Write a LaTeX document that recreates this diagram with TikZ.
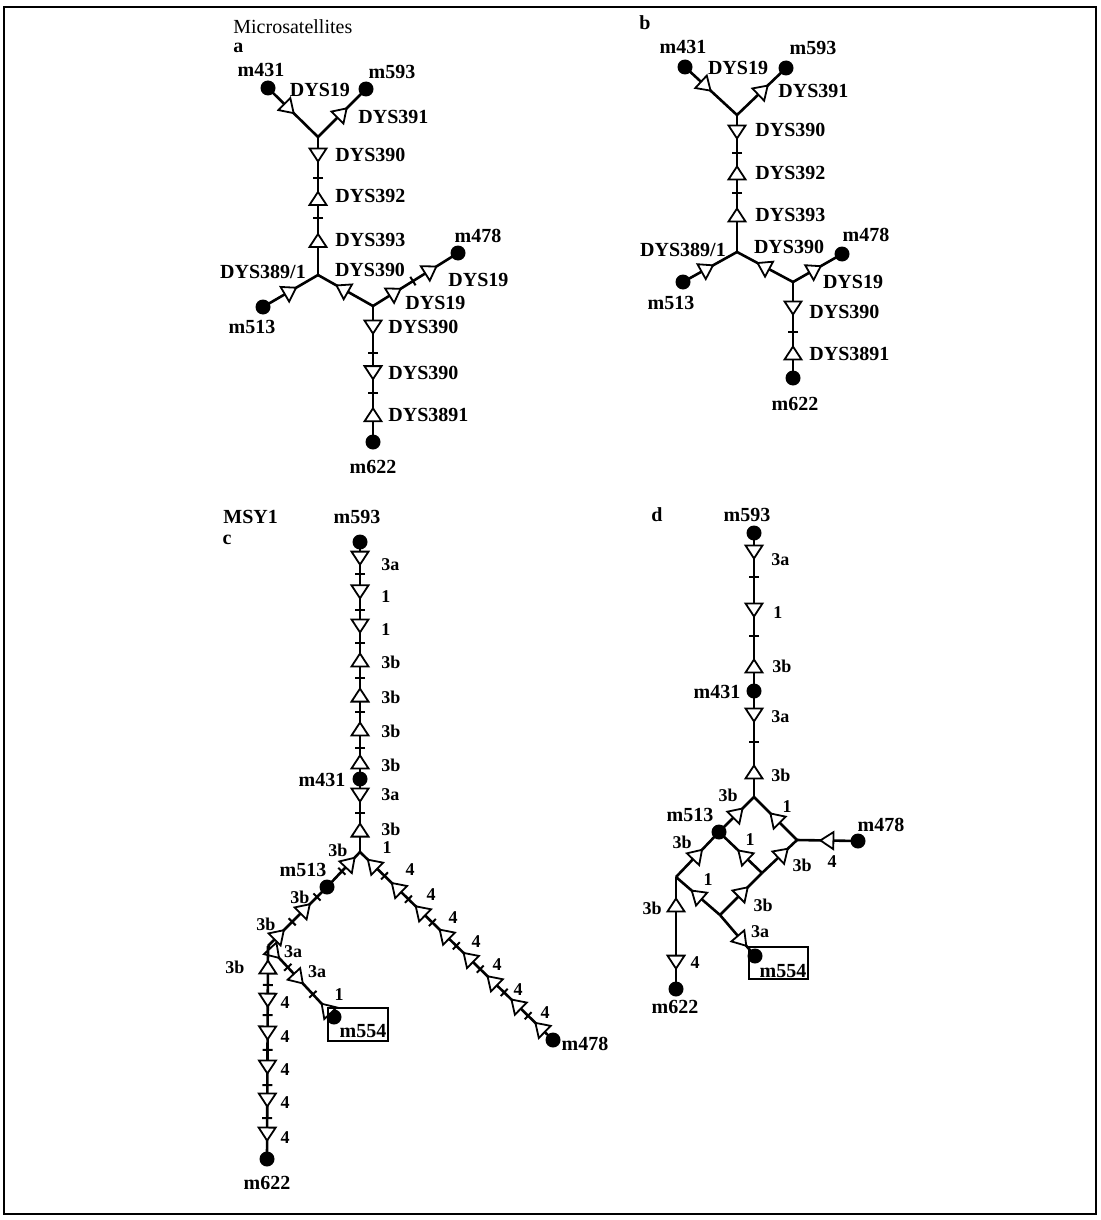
\documentclass[tikz,border=0pt]{standalone}
\usepackage{fontspec}
\setmainfont{Liberation Serif}
\usetikzlibrary{calc}

\tikzset{
  edge/.style={line width=1.3pt},
  tri/.style={line width=0.9pt, fill=white, line join=miter},
  fw/.pic={\draw[tri] (6.5,0) -- (-6.5,8.5) -- (-6.5,-8.5) -- cycle;},
  bw/.pic={\draw[tri] (-6.5,0) -- (6.5,8.5) -- (6.5,-8.5) -- cycle;},
  tk/.pic={\draw[line width=1pt] (0,-5) -- (0,5);},
  ps/.style={pos=#1, sloped, allow upside down},
  dot/.style={circle, fill=black, inner sep=0pt, minimum size=7.5pt},
  lbl/.style={font=\bfseries\fontsize{10}{12}\selectfont, inner sep=0pt},
  num/.style={font=\bfseries\fontsize{9}{11}\selectfont, inner sep=0pt},
  txt/.style={font=\fontsize{10}{12}\selectfont, inner sep=0pt},
  box/.style={draw, line width=0.9pt},
}

\begin{document}
\begin{tikzpicture}[x=0.5pt, y=-0.5pt]
\useasboundingbox (0,0) rectangle (1100,1220);
\draw[line width=1.1pt] (4,7) rectangle (1096,1214);

% ---------------- panel a ----------------
\node[dot] (a431) at (268,88) {};
\node[dot] (a593) at (366,89) {};
\node[dot] (a513) at (263,307) {};
\node[dot] (a478) at (458,253) {};
\node[dot] (a622) at (373,442) {};
\coordinate (aj1) at (318,137);
\coordinate (aj2) at (318,275);
\coordinate (aj3) at (373,306);

\draw[edge] (a431.center) -- pic[ps=.42]{fw} (aj1);
\draw[edge] (a593.center) -- pic[ps=.5]{bw} (aj1);
\draw[edge] (aj1) -- pic[ps=.13]{fw} pic[ps=.30]{tk} pic[ps=.445]{bw}
  pic[ps=.59]{tk} pic[ps=.75]{bw} (aj2);
\draw[edge] (aj2) -- pic[ps=.5]{bw} (a513.center);
\draw[edge] (aj2) -- pic[ps=.44]{bw} (aj3);
\draw[edge] (aj3) -- pic[ps=.26]{fw} pic[ps=.47]{tk} pic[ps=.68]{fw} (a478.center);
\draw[edge] (aj3) -- pic[ps=.155]{fw} pic[ps=.345]{tk} pic[ps=.49]{fw}
  pic[ps=.64]{tk} pic[ps=.80]{bw} (a622.center);

\node[txt, anchor=west] (tmicro) at (233,27) {Microsatellites};
\node[lbl, anchor=west] (ta) at (233,48) {a};
\node[lbl] (la431) at (261,70) {m431};
\node[lbl] (la593) at (392,72) {m593};
\node[lbl] (la19a) at (320,90) {DYS19};
\node[lbl, anchor=west] (la391) at (358,117) {DYS391};
\node[lbl, anchor=west] (la390a) at (335,155) {DYS390};
\node[lbl, anchor=west] (la392) at (335,196) {DYS392};
\node[lbl, anchor=west] (la393) at (335,240) {DYS393};
\node[lbl] (la3891) at (263,272) {DYS389/1};
\node[lbl] (la513) at (252,327) {m513};
\node[lbl] (la390b) at (370,270) {DYS390};
\node[lbl] (la478) at (478,236) {m478};
\node[lbl, anchor=west] (la19b) at (448,280) {DYS19};
\node[lbl, anchor=west] (la19c) at (405,303) {DYS19};
\node[lbl, anchor=west] (la390c) at (388,327) {DYS390};
\node[lbl, anchor=west] (la390d) at (388,373) {DYS390};
\node[lbl, anchor=west] (la3891b) at (388,415) {DYS3891};
\node[lbl] (la622) at (373,467) {m622};

% ---------------- panel b ----------------
\node[dot] (b431) at (685,67) {};
\node[dot] (b593) at (786,68) {};
\node[dot] (b513) at (683,282) {};
\node[dot] (b478) at (842,254) {};
\node[dot] (b622) at (793,378) {};
\coordinate (bj1) at (737,115);
\coordinate (bj2) at (737,252);
\coordinate (bj3) at (793,282);

\draw[edge] (b431.center) -- pic[ps=.4]{fw} (bj1);
\draw[edge] (b593.center) -- pic[ps=.47]{bw} (bj1);
\draw[edge] (bj1) -- pic[ps=.124]{fw} pic[ps=.277]{tk} pic[ps=.423]{bw}
  pic[ps=.57]{tk} pic[ps=.73]{bw} (bj2);
\draw[edge] (bj2) -- pic[ps=.55]{bw} (b513.center);
\draw[edge] (bj2) -- pic[ps=.47]{bw} (bj3);
\draw[edge] (bj3) -- pic[ps=.45]{fw} (b478.center);
\draw[edge] (bj3) -- pic[ps=.27]{fw} pic[ps=.52]{tk} pic[ps=.74]{bw} (b622.center);

\node[lbl] (tb) at (645,23) {b};
\node[lbl] (lb431) at (683,47) {m431};
\node[lbl] (lb593) at (813,48) {m593};
\node[lbl] (lb19a) at (738,68) {DYS19};
\node[lbl, anchor=west] (lb391) at (778,91) {DYS391};
\node[lbl, anchor=west] (lb390a) at (755,130) {DYS390};
\node[lbl, anchor=west] (lb392) at (755,173) {DYS392};
\node[lbl, anchor=west] (lb393) at (755,215) {DYS393};
\node[lbl] (lb3891) at (683,250) {DYS389/1};
\node[lbl] (lb513) at (671,303) {m513};
\node[lbl] (lb390b) at (789,247) {DYS390};
\node[lbl] (lb478) at (866,235) {m478};
\node[lbl] (lb19b) at (853,282) {DYS19};
\node[lbl, anchor=west] (lb390c) at (809,312) {DYS390};
\node[lbl, anchor=west] (lb3891b) at (809,354) {DYS3891};
\node[lbl] (lb622) at (795,404) {m622};

% ---------------- panel c ----------------
\node[dot] (c593) at (360,542) {};
\node[dot] (c431) at (360,779) {};
\node[dot] (c513) at (327,887) {};
\node[dot] (c554) at (334,1017) {};
\node[dot] (c622) at (267,1159) {};
\node[dot] (c478) at (553,1040) {};
\coordinate (cj) at (360,852);
\coordinate (cj2) at (268,946);

\draw[edge] (c593.center) -- pic[ps=.068]{fw} pic[ps=.135]{tk} pic[ps=.21]{fw}
  pic[ps=.287]{tk} pic[ps=.354]{fw} pic[ps=.426]{tk} pic[ps=.498]{bw}
  pic[ps=.574]{tk} pic[ps=.646]{bw} pic[ps=.717]{tk} pic[ps=.789]{bw}
  pic[ps=.869]{tk} pic[ps=.928]{bw} (c431.center);
\draw[edge] (c431.center) -- pic[ps=.22]{fw} pic[ps=.47]{tk} pic[ps=.70]{bw} (cj);
\draw[edge] (cj) -- pic[ps=.3]{bw} pic[ps=.55]{tk} (c513.center);
\draw[edge] (c513.center) -- pic[ps=.17]{tk} pic[ps=.37]{bw} pic[ps=.59]{tk}
  pic[ps=.81]{bw} (cj2);
\draw[edge] (cj2) -- pic[ps=.1]{fw} pic[ps=.3]{tk} pic[ps=.46]{fw}
  pic[ps=.68]{tk} pic[ps=.88]{bw} (c554.center);
\draw[edge] (cj2) -- pic[ps=.099]{bw} pic[ps=.183]{tk} pic[ps=.254]{fw}
  pic[ps=.324]{tk} pic[ps=.408]{fw} pic[ps=.488]{tk} pic[ps=.568]{fw}
  pic[ps=.653]{tk} pic[ps=.723]{fw} pic[ps=.808]{tk} pic[ps=.883]{fw} (c622.center);
\draw[edge] (cj) -- pic[ps=.065]{bw} pic[ps=.127]{tk} pic[ps=.189]{bw}
  pic[ps=.251]{tk} pic[ps=.313]{bw} pic[ps=.375]{tk} pic[ps=.437]{bw}
  pic[ps=.499]{tk} pic[ps=.561]{bw} pic[ps=.623]{tk} pic[ps=.685]{bw}
  pic[ps=.747]{tk} pic[ps=.809]{bw} pic[ps=.871]{tk} pic[ps=.933]{bw} (c478.center);
\node[box, minimum width=30pt, minimum height=16.5pt, inner sep=0pt,
  anchor=north west] (c554box) at (327,1007) {};

\node[lbl, anchor=west] (tmsy) at (223,517) {MSY1};
\node[lbl] (tc) at (227,540) {c};
\node[lbl] (lc593) at (357,517) {m593};
\node[num, anchor=west] (lc1) at (381,565) {3a};
\node[num, anchor=west] (lc2) at (381,597) {1};
\node[num, anchor=west] (lc3) at (381,630) {1};
\node[num, anchor=west] (lc4) at (381,662) {3b};
\node[num, anchor=west] (lc5) at (381,697) {3b};
\node[num, anchor=west] (lc6) at (381,731) {3b};
\node[num, anchor=west] (lc7) at (381,765) {3b};
\node[lbl] (lc431) at (322,780) {m431};
\node[num, anchor=west] (lc8) at (381,795) {3a};
\node[num, anchor=west] (lc9) at (381,829) {3b};
\node[num] (lc10) at (338,850) {3b};
\node[num] (lc11) at (387,848) {1};
\node[lbl] (lc513) at (303,870) {m513};
\node[num] (lc12) at (300,897) {3b};
\node[num] (lc13) at (266,924) {3b};
\node[num] (lc14) at (293,952) {3a};
\node[num] (lc15) at (317,972) {3a};
\node[num] (lc16) at (339,995) {1};
\node[num] (lc17) at (235,967) {3b};
\node[num] (lc18) at (285,1003) {4};
\node[num] (lc19) at (285,1037) {4};
\node[num] (lc20) at (285,1070) {4};
\node[num] (lc21) at (285,1103) {4};
\node[num] (lc22) at (285,1138) {4};
\node[lbl] (lc622) at (267,1183) {m622};
\node[lbl] (lc554) at (363,1031) {m554};
\node[num] (lc23) at (410,870) {4};
\node[num] (lc24) at (431,895) {4};
\node[num] (lc25) at (453,918) {4};
\node[num] (lc26) at (476,942) {4};
\node[num] (lc27) at (497,965) {4};
\node[num] (lc28) at (518,990) {4};
\node[num] (lc29) at (545,1013) {4};
\node[lbl] (lc478) at (585,1044) {m478};

% ---------------- panel d ----------------
\node[dot] (d593) at (754,533) {};
\node[dot] (d431) at (754,691) {};
\node[dot] (d513) at (719,832) {};
\node[dot] (d478) at (858,841) {};
\node[dot] (d622) at (676,989) {};
\node[dot] (d554) at (755,956) {};
\coordinate (dt) at (754,797);
\coordinate (dr) at (797,840);
\coordinate (dm) at (762,873);
\coordinate (dl) at (676,877);
\coordinate (db) at (720,915);

\draw[edge] (d593.center) -- pic[ps=.12]{fw} pic[ps=.28]{tk} pic[ps=.487]{fw}
  pic[ps=.652]{tk} pic[ps=.842]{bw} (d431.center);
\draw[edge] (d431.center) -- pic[ps=.226]{fw} pic[ps=.48]{tk} pic[ps=.764]{bw} (dt);
\draw[edge] (dt) -- pic[ps=.46]{bw} (d513.center);
\draw[edge] (dt) -- pic[ps=.49]{bw} (dr);
\draw[edge] (dr) -- pic[ps=.49]{bw} (d478.center);
\draw[edge] (d513.center) -- pic[ps=.5]{bw} (dl);
\draw[edge] (d513.center) -- pic[ps=.56]{bw} (dm);
\draw[edge] (dm) -- pic[ps=.6]{fw} (dr);
\draw[edge] (dl) -- pic[ps=.47]{bw} (db);
\draw[edge] (db) -- pic[ps=.63]{fw} (d554.center);
\draw[edge] (db) -- pic[ps=.55]{fw} (dm);
\draw[edge] (dl) -- pic[ps=.25]{bw} pic[ps=.76]{fw} (d622.center);
\node[box, minimum width=29.5pt, minimum height=16pt, inner sep=0pt,
  anchor=north west] (d554box) at (748,946) {};

\node[lbl] (td) at (657,515) {d};
\node[lbl] (ld593) at (747,515) {m593};
\node[num, anchor=west] (ld1) at (771,560) {3a};
\node[num, anchor=west] (ld2) at (773,613) {1};
\node[num, anchor=west] (ld3) at (772,666) {3b};
\node[lbl] (ld431) at (717,692) {m431};
\node[num, anchor=west] (ld4) at (771,717) {3a};
\node[num, anchor=west] (ld5) at (771,775) {3b};
\node[num] (ld6) at (728,795) {3b};
\node[num] (ld7) at (787,807) {1};
\node[lbl] (ld513) at (690,815) {m513};
\node[lbl] (ld478) at (881,825) {m478};
\node[num] (ld8) at (682,842) {3b};
\node[num] (ld9) at (750,840) {1};
\node[num] (ld10) at (802,865) {3b};
\node[num] (ld11) at (832,862) {4};
\node[num] (ld12) at (708,880) {1};
\node[num] (ld13) at (763,905) {3b};
\node[num] (ld14) at (760,932) {3a};
\node[num] (ld15) at (652,908) {3b};
\node[num] (ld16) at (695,963) {4};
\node[lbl] (ld622) at (675,1007) {m622};
\node[lbl] (ld554) at (783,971) {m554};
\end{tikzpicture}
\end{document}
